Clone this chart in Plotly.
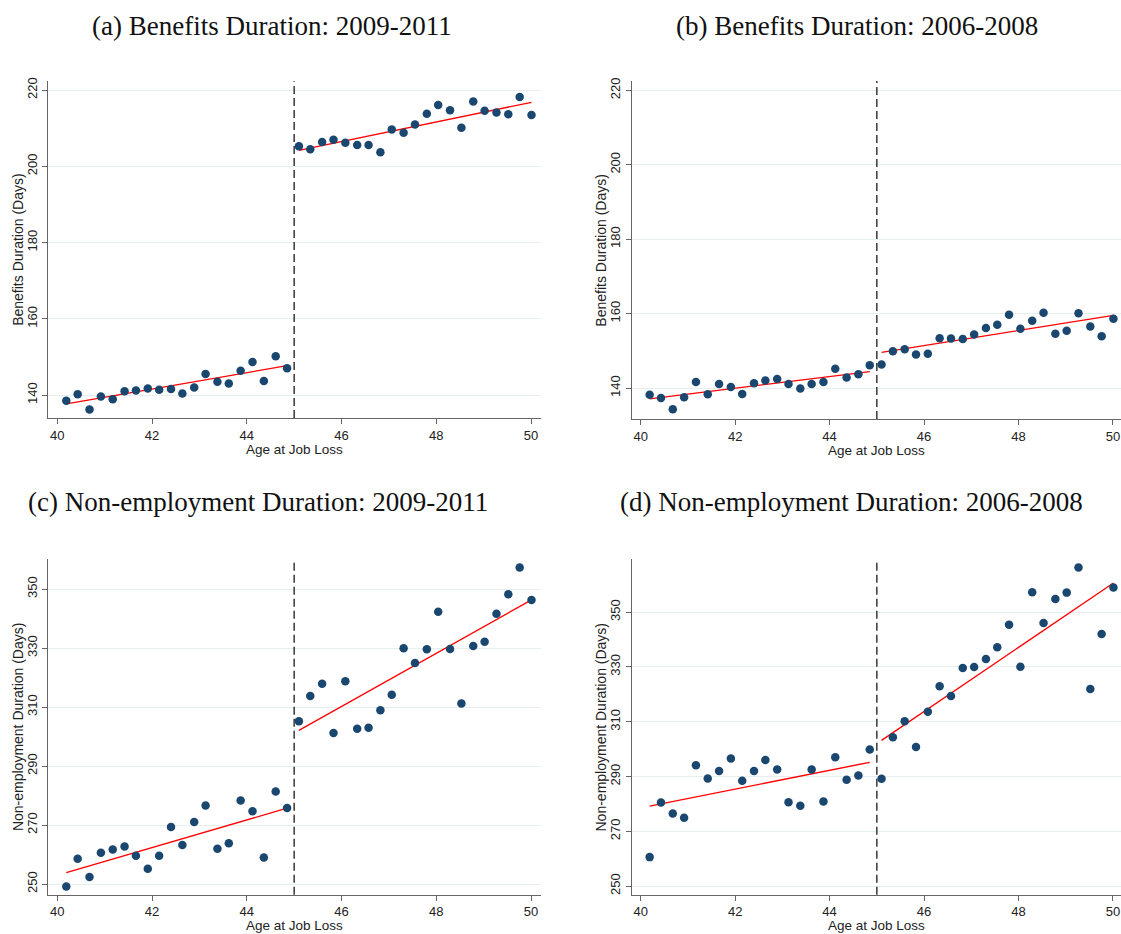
import plotly.graph_objects as go

# ---------------- data ----------------
age_bins = [40.19, 40.43, 40.68, 40.92, 41.17, 41.42, 41.66, 41.91, 42.15, 42.40,
            42.64, 42.89, 43.13, 43.38, 43.62, 43.87, 44.12, 44.36, 44.61, 44.85,
            45.10, 45.34, 45.59, 45.83, 46.08, 46.33, 46.57, 46.82, 47.06, 47.31,
            47.55, 47.80, 48.04, 48.29, 48.53, 48.78, 49.02, 49.27, 49.52, 49.76, 50.01]
cutoff_age = 45

benefits_0911 = [138.5, 140.2, 136.2, 139.6, 138.9, 141.0, 141.2, 141.7, 141.4, 141.6,
                 140.4, 142.0, 145.5, 143.5, 143.0, 146.4, 148.7, 143.7, 150.2, 147.0,
                 205.3, 204.5, 206.4, 207.0, 206.2, 205.6, 205.6, 203.7, 209.7, 208.8,
                 211.0, 213.8, 216.1, 214.7, 210.1, 217.0, 214.6, 214.1, 213.7, 218.2, 213.5]
benefits_0608 = [138.2, 137.3, 134.3, 137.5, 141.6, 138.3, 141.1, 140.3, 138.4, 141.3,
                 142.0, 142.4, 141.1, 139.9, 141.1, 141.6, 145.2, 142.8, 143.7, 146.1,
                 146.3, 149.9, 150.4, 149.0, 149.2, 153.4, 153.3, 153.2, 154.4, 156.1,
                 157.0, 159.7, 155.9, 158.1, 160.2, 154.6, 155.4, 160.1, 156.5, 153.9, 158.6]
nonemp_0911 = [249.2, 258.6, 252.4, 260.6, 261.7, 262.7, 259.6, 255.2, 259.6, 269.3,
               263.2, 271.0, 276.6, 262.0, 263.8, 278.3, 274.7, 259.0, 281.4, 275.8,
               305.2, 313.7, 317.9, 301.2, 318.7, 302.6, 303.0, 308.9, 314.2, 329.9,
               324.9, 329.6, 342.3, 329.7, 311.2, 330.7, 332.1, 341.6, 348.2, 357.3, 346.3]
nonemp_0608 = [260.6, 280.5, 276.5, 275.0, 294.1, 289.3, 292.0, 296.6, 288.5, 292.0,
               296.0, 292.6, 280.6, 279.3, 292.6, 280.9, 297.0, 288.8, 290.4, 299.9,
               289.2, 304.3, 310.2, 300.8, 313.6, 322.9, 319.4, 329.6, 330.0, 332.9,
               337.2, 345.4, 330.1, 357.2, 346.0, 354.8, 357.1, 366.3, 321.9, 342.0, 359.0]

# fitted values at the ends of each side: [left start, left end, right start, right end]
fit_benefits_0911 = [137.7, 147.7, 204.2, 216.8]
fit_benefits_0608 = [137.1, 144.4, 149.6, 159.5]
fit_nonemp_0911 = [253.9, 275.7, 302.1, 346.3]
fit_nonemp_0608 = [279.2, 295.2, 303.2, 360.6]

panel_titles = ["(a) Benefits Duration: 2009-2011", "(b) Benefits Duration: 2006-2008",
                "(c) Non-employment Duration: 2009-2011", "(d) Non-employment Duration: 2006-2008"]
y_titles = ["Benefits Duration (Days)", "Benefits Duration (Days)",
            "Non-employment Duration (Days)", "Non-employment Duration (Days)"]
x_title = "Age at Job Loss"
benefit_ticks = [140, 160, 180, 200, 220]
nonemp_ticks = [250, 270, 290, 310, 330, 350]
x_ticks = [40, 42, 44, 46, 48, 50]

# ---------------- style ----------------
W, H = 1121, 934
MARKER = "#1a476f"
SANS = "Liberation Sans, Arial, sans-serif"
SERIF = "Liberation Serif, Times New Roman, serif"
AXIS_COL = "#666666"
GRID_COL = "#e6eef0"

panels = [
    dict(y=benefits_0911, fit=fit_benefits_0911, ticks=benefit_ticks, yr=[134.0, 222.35],
         xr=[39.81, 50.21], xd=[48.3, 541.0], yd=[77.5, 415.7], xt=32),
    dict(y=benefits_0608, fit=fit_benefits_0608, ticks=benefit_ticks, yr=[131.7, 222.5],
         xr=[39.81, 50.17], xd=[631.7, 1121.0], yd=[77.3, 416.7], xt=32),
    dict(y=nonemp_0911, fit=fit_nonemp_0911, ticks=nonemp_ticks, yr=[246.4, 360.2],
         xr=[39.81, 50.21], xd=[48.3, 541.0], yd=[557.3, 894.5], xt=31),
    dict(y=nonemp_0608, fit=fit_nonemp_0608, ticks=nonemp_ticks, yr=[246.9, 369.4],
         xr=[39.81, 50.17], xd=[631.7, 1121.0], yd=[557.3, 894.5], xt=31),
]
title_pos = [(272, 22), (857, 22), (258, 500), (851, 500)]

fig = go.Figure()
left_idx = [i for i, a in enumerate(age_bins) if a < cutoff_age]
right_idx = [i for i, a in enumerate(age_bins) if a >= cutoff_age]

annotations = []
shapes = []
for k, p in enumerate(panels):
    n = "" if k == 0 else str(k + 1)
    xa, ya = "x" + n, "y" + n
    # fit lines
    fig.add_trace(go.Scatter(
        x=[age_bins[left_idx[0]], age_bins[left_idx[-1]]], y=p["fit"][0:2],
        mode="lines", line=dict(color="#ff0000", width=1.3), xaxis=xa, yaxis=ya,
        showlegend=False, hoverinfo="skip"))
    fig.add_trace(go.Scatter(
        x=[age_bins[right_idx[0]], age_bins[right_idx[-1]]], y=p["fit"][2:4],
        mode="lines", line=dict(color="#ff0000", width=1.3), xaxis=xa, yaxis=ya,
        showlegend=False, hoverinfo="skip"))
    # bin means
    fig.add_trace(go.Scatter(
        x=age_bins, y=p["y"], mode="markers",
        marker=dict(color=MARKER, size=8.5, line=dict(width=0)),
        xaxis=xa, yaxis=ya, showlegend=False))

    xdom = [p["xd"][0] / W, p["xd"][1] / W]
    ydom = [1 - p["yd"][1] / H, 1 - p["yd"][0] / H]
    fig.layout["xaxis" + n] = dict(
        domain=xdom, range=p["xr"], anchor=ya, tickvals=x_ticks,
        showline=True, linecolor=AXIS_COL, linewidth=1.2, ticks="outside",
        ticklen=5, tickcolor=AXIS_COL, showgrid=False, zeroline=False,
        tickfont=dict(family=SANS, size=13, color="#222"))
    fig.layout["yaxis" + n] = dict(
        domain=ydom, range=p["yr"], anchor=xa, tickvals=p["ticks"],
        showline=True, linecolor=AXIS_COL, linewidth=1.2, ticks="outside",
        ticklen=5, tickcolor=AXIS_COL, showgrid=True, gridcolor=GRID_COL,
        gridwidth=1, zeroline=False, tickangle=-90,
        tickfont=dict(family=SANS, size=13, color="#222"))

    shapes.append(dict(type="line", xref=xa, yref=ya + " domain", x0=cutoff_age, x1=cutoff_age,
                       y0=0, y1=1, line=dict(color="#444444", width=1.6, dash="8px,4px")))

    # titles
    tx, ty = title_pos[k]
    annotations.append(dict(text=panel_titles[k], x=tx / W, y=1 - ty / H, xref="paper", yref="paper",
                            showarrow=False, xanchor="center", yanchor="middle",
                            font=dict(family=SERIF, size=27, color="#111")))
    annotations.append(dict(text=y_titles[k], x=(p["xd"][0] - 31) / W,
                            y=1 - (p["yd"][0] + p["yd"][1]) / 2 / H, xref="paper", yref="paper",
                            showarrow=False, textangle=-90, xanchor="center", yanchor="middle",
                            font=dict(family=SANS, size=14, color="#222")))
    annotations.append(dict(text=x_title, x=(p["xd"][0] + p["xd"][1]) / 2 / W,
                            y=1 - (p["yd"][1] + p["xt"]) / H, xref="paper", yref="paper",
                            showarrow=False, xanchor="center", yanchor="middle",
                            font=dict(family=SANS, size=13.5, color="#222")))

fig.update_layout(width=W, height=H, margin=dict(l=0, r=0, t=0, b=0),
                  paper_bgcolor="white", plot_bgcolor="white",
                  annotations=annotations, shapes=shapes, showlegend=False)
fig.write_html("out.html")
